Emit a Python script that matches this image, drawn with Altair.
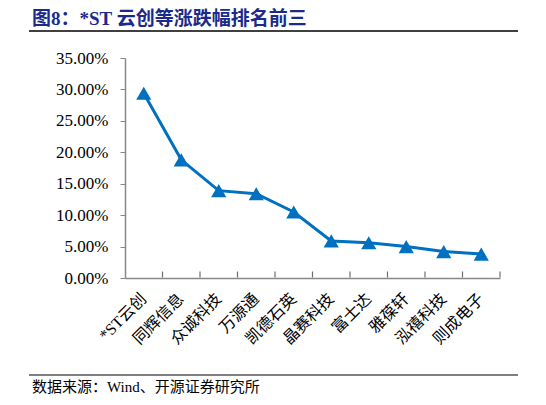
import altair as alt
import pandas as pd

# 涨跌幅排名 (%)
stocks = ["*ST云创", "同辉信息", "众诚科技", "万源通", "凯德石英",
          "晶赛科技", "富士达", "雅葆轩", "泓禧科技", "则成电子"]
changes = [29.4, 18.8, 13.9, 13.4, 10.5, 5.9, 5.6, 5.0, 4.2, 3.8]
y_ticks = [0.0, 0.05, 0.10, 0.15, 0.20, 0.25, 0.30, 0.35]

title_text = "图8：*ST 云创等涨跌幅排名前三"
source_text = "数据来源：Wind、开源证券研究所"

FONT = "'Liberation Serif', 'Noto Sans CJK SC', serif"
BLUE = "#0070C0"

df = pd.DataFrame({"stock": stocks, "pct": [v / 100 for v in changes]})

xenc = alt.X("stock:N", sort=stocks, title=None,
             scale=alt.Scale(paddingInner=0, paddingOuter=0),
             axis=alt.Axis(labelAngle=-45, labelAlign="right", labelBaseline="middle",
                           labelFont=FONT, labelFontSize=16, labelColor="#000",
                           labelPadding=18, ticks=False, domainColor="#888",
                           domainWidth=1.5, grid=False))
yenc = alt.Y("pct:Q", title=None,
             scale=alt.Scale(domain=[0, 0.35], nice=False),
             axis=alt.Axis(format=".2%", values=y_ticks,
                           labelFont=FONT, labelFontSize=17, labelColor="#000",
                           labelPadding=12, tickSize=5, tickColor="#888",
                           domainColor="#888", domainWidth=1.5, grid=False))

base = alt.Chart(df)

line = base.mark_line(color=BLUE, strokeWidth=3).encode(x=xenc, y=yenc)
pts = base.mark_point(shape="triangle-up", filled=True, opacity=1,
                      color=BLUE, size=230).encode(x=xenc, y=yenc)

# inward ticks between categories
ticks = base.mark_tick(color="#333", thickness=1.2, size=6, orient="vertical").encode(
    x=alt.X("stock:N", sort=stocks, bandPosition=1),
    y=alt.value(216.5))

deco = alt.Chart(pd.DataFrame({"t": [title_text], "s": [source_text]}))

title = deco.mark_text(
    align="left", baseline="alphabetic", font=FONT, fontSize=19,
    fontWeight="bold", color="#1B2A8C").encode(
    text="t:N", x=alt.value(-93), y=alt.value(-33))
# separator lines under the title and above the source note
title_rule = deco.mark_rule(color="#000", strokeWidth=1.4).encode(
    x=alt.value(-96), x2=alt.value(393), y=alt.value(-27))
source_rule = deco.mark_rule(color="#000", strokeWidth=1.2).encode(
    x=alt.value(-96), x2=alt.value(393), y=alt.value(317))

source = deco.mark_text(
    align="left", baseline="middle", font=FONT, fontSize=15,
    color="#000").encode(text="s:N", x=alt.value(-93), y=alt.value(329))

chart = alt.layer(line, ticks, pts, title, title_rule, source_rule, source).properties(
    width=375, height=220,
    background="white",
    autosize=alt.AutoSizeParams(type="none"),
    padding={"left": 117, "top": 50, "right": 30, "bottom": 119},
).configure_view(strokeWidth=0)

chart.save("out.html", embed_options={"renderer": "svg", "actions": False})
